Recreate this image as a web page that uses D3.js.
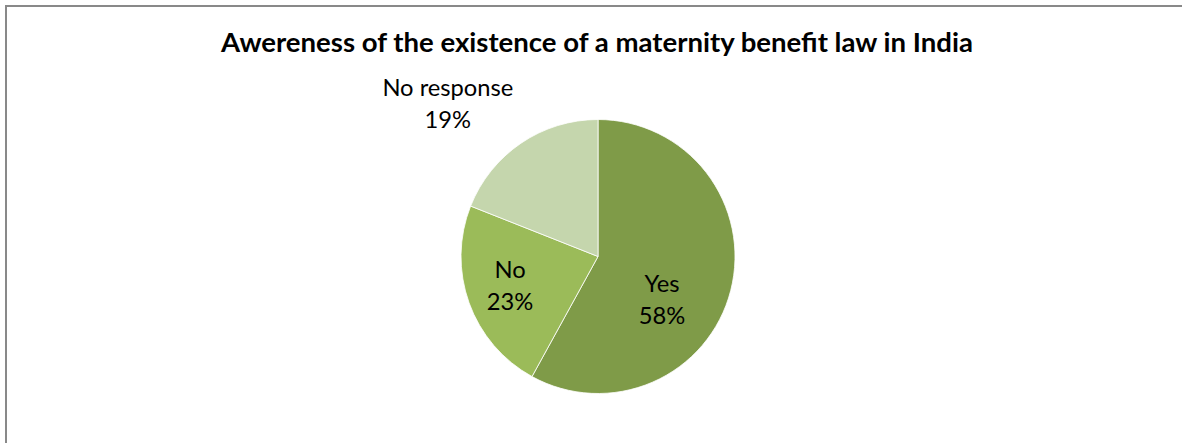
<!DOCTYPE html>
<html><head><meta charset="utf-8">
<script src="https://cdn.jsdelivr.net/npm/d3@7"></script>
<style>body{margin:0;background:#fff}svg{display:block}</style>
</head><body>
<svg id="c" width="1182" height="443"></svg>
<script>
// ---- data ----
const categories = ["Yes", "No", "No response"];
const values = [58, 23, 19];
const percentLabels = ["58%", "23%", "19%"];
const sliceColors = ["#7f9b48", "#9bbb59", "#c5d6ad"];
const chartTitle = "Awereness of the existence of a maternity benefit law in India";

// ---- layout ----
const W = 1182, H = 443;
const cx = 598, cy = 256.5, R = 137;
// label placement relative to slice mid-angle: [angle shift (deg), radius factor]
const labelPlace = [[14.6, 0.534], [6.1, 0.661], [-8.9, 1.604]];
const fontFam = "Lato, 'Open Sans', 'Noto Sans', sans-serif";

const svg = d3.select("#c");
svg.append("rect").attr("x", 6).attr("y", 6).attr("width", W + 10).attr("height", H + 10)
  .attr("fill", "#fff").attr("stroke", "#898989").attr("stroke-width", 2);

// title, fitted to width
const t = svg.append("text").text(chartTitle)
  .attr("x", 597).attr("y", 52).attr("text-anchor", "middle")
  .attr("font-family", fontFam).attr("font-weight", "bold").attr("font-size", 22).attr("fill", "#000");
const tw = t.node().getComputedTextLength();
t.attr("font-size", 22 * 752 / tw);

const pie = d3.pie().value(d => d).sort(null);
const arcs = pie(values);
const arc = d3.arc().innerRadius(0).outerRadius(R);

const g = svg.append("g").attr("transform", `translate(${cx},${cy})`);
g.selectAll("path").data(arcs).join("path")
  .attr("d", arc)
  .attr("fill", (d, i) => sliceColors[i])
  .attr("stroke", "#fff").attr("stroke-width", 0.8);

// label font size fitted so "No response" ~131px wide
const probe = svg.append("text").text("No response").attr("font-family", fontFam).attr("font-size", 20);
const pw = probe.node().getComputedTextLength();
probe.remove();
const lfs = 20 * 131 / pw;

arcs.forEach((a, i) => {
  const mid = (a.startAngle + a.endAngle) / 2 + labelPlace[i][0] * Math.PI / 180;
  const r = R * labelPlace[i][1];
  const x = r * Math.sin(mid), y = -r * Math.cos(mid);
  const txt = g.append("text").attr("text-anchor", "middle")
    .attr("font-family", fontFam).attr("font-size", lfs).attr("fill", "#000");
  txt.append("tspan").attr("x", x).attr("y", y).text(categories[i]);
  txt.append("tspan").attr("x", x).attr("y", y + 32).text(percentLabels[i]);
});
</script>
</body></html>
